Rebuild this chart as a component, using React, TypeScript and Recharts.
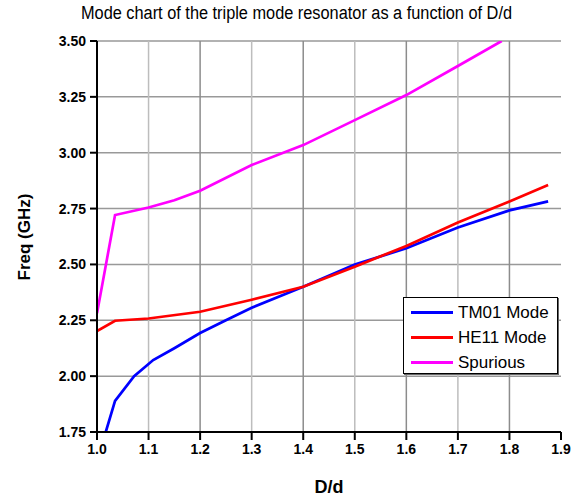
import React from 'react';
import { LineChart, Line, XAxis, YAxis, CartesianGrid, ReferenceLine } from 'recharts';

const xTicks = [1.0, 1.1, 1.2, 1.3, 1.4, 1.5, 1.6, 1.7, 1.8, 1.9];
const yTicks = [1.75, 2.0, 2.25, 2.5, 2.75, 3.0, 3.25, 3.5];

const tm01X = [1.017, 1.035, 1.072, 1.109, 1.15, 1.2, 1.25, 1.3, 1.4, 1.5, 1.6, 1.7, 1.8, 1.875];
const tm01Y = [1.75, 1.889, 2.0, 2.072, 2.125, 2.193, 2.25, 2.306, 2.4, 2.5, 2.572, 2.665, 2.742, 2.782];

const he11X = [1.0, 1.035, 1.1, 1.2, 1.3, 1.4, 1.5, 1.6, 1.7, 1.8, 1.875];
const he11Y = [2.202, 2.248, 2.258, 2.288, 2.342, 2.4, 2.49, 2.583, 2.688, 2.782, 2.855];

const spurX = [1.0, 1.035, 1.1, 1.15, 1.2, 1.3, 1.4, 1.5, 1.6, 1.7, 1.785];
const spurY = [2.281, 2.721, 2.755, 2.787, 2.83, 2.945, 3.034, 3.146, 3.258, 3.388, 3.5];

const seriesNames = ['TM01 Mode', 'HE11 Mode', 'Spurious'];
const seriesColors = ['#0000ff', '#ff0000', '#ff00ff'];
const titleText = 'Mode chart of the triple mode resonator as a function of D/d';

const toData = (xs: number[], ys: number[]) => xs.map((x, i) => ({ x, y: ys[i] }));
const tm01Data = toData(tm01X, tm01Y);
const he11Data = toData(he11X, he11Y);
const spurData = toData(spurX, spurY);

const FONT = '"Liberation Sans", Arial, sans-serif';

const LegendBox = () => (
  <div
    style={{
      position: 'absolute',
      left: 403,
      top: 297,
      width: 155,
      height: 77,
      background: '#fff',
      border: '1px solid #000',
      boxShadow: '1px 1px 0 #666',
      fontFamily: FONT,
      fontSize: 17,
      color: '#000',
      boxSizing: 'border-box',
      paddingTop: 2,
    }}
  >
    {seriesNames.map((n, i) => (
      <div key={n} style={{ display: 'flex', alignItems: 'center', height: 25, whiteSpace: 'nowrap' }}>
        <div style={{ width: 42, height: 3, background: seriesColors[i], marginLeft: 7, marginRight: 5 }} />
        <span>{n}</span>
      </div>
    ))}
  </div>
);

export default function App() {
  return (
    <div style={{ position: 'absolute', left: 0, top: 0, width: 585, height: 500, background: '#fff' }}>
      <svg width={585} height={30} style={{ position: 'absolute', left: 0, top: 0 }}>
        <text
          x={296.5}
          y={18.5}
          textAnchor="middle"
          fontFamily={FONT}
          fontSize={18}
          fill="#000"
          textLength={431}
          lengthAdjust="spacingAndGlyphs"
        >
          {titleText}
        </text>
      </svg>
      <div
        style={{
          position: 'absolute',
          left: 25,
          top: 237,
          transform: 'translate(-50%, -50%) rotate(-90deg)',
          fontFamily: FONT,
          fontSize: 17,
          fontWeight: 'bold',
          whiteSpace: 'nowrap',
        }}
      >
        Freq (GHz)
      </div>
      <div
        style={{
          position: 'absolute',
          left: 329,
          top: 487,
          transform: 'translate(-50%, -50%)',
          fontFamily: FONT,
          fontSize: 18,
          fontWeight: 'bold',
          whiteSpace: 'nowrap',
        }}
      >
        D/d
      </div>
      <LineChart width={585} height={500} margin={{ top: 41, right: 24, bottom: 0, left: 0 }}>
        <CartesianGrid horizontal={true} vertical={false} stroke="#999" strokeWidth={1.5} />
        {xTicks.slice(1, -1).map((t, i) => (
          <ReferenceLine key={t} x={t} stroke={i % 2 === 0 ? '#bdbdbd' : '#8c8c8c'} strokeWidth={1.5} />
        ))}
        <XAxis
          dataKey="x"
          type="number"
          domain={[1.0, 1.9]}
          ticks={xTicks}
          tickFormatter={(v: number) => v.toFixed(1)}
          height={68}
          tickSize={8}
          tickMargin={4}
          allowDataOverflow
          axisLine={{ stroke: '#000', strokeWidth: 2 }}
          tickLine={{ stroke: '#000', strokeWidth: 2 }}
          tick={{ fill: '#000', fontSize: 14, fontWeight: 'bold', fontFamily: FONT }}
        />
        <XAxis
          xAxisId="top"
          orientation="top"
          type="number"
          domain={[1.0, 1.9]}
          ticks={xTicks}
          height={0}
          tick={false}
          tickLine={false}
          axisLine={{ stroke: '#000', strokeWidth: 2 }}
        />
        <YAxis
          type="number"
          domain={[1.75, 3.5]}
          ticks={yTicks}
          tickFormatter={(v: number) => v.toFixed(2)}
          width={97}
          tickSize={7}
          tickMargin={4}
          allowDataOverflow
          axisLine={{ stroke: '#000', strokeWidth: 2 }}
          tickLine={{ stroke: '#000', strokeWidth: 2 }}
          tick={{ fill: '#000', fontSize: 14, fontWeight: 'bold', fontFamily: FONT }}
        />
        <YAxis
          yAxisId="right"
          orientation="right"
          type="number"
          domain={[1.75, 3.5]}
          ticks={yTicks}
          width={0}
          tickSize={4}
          tickFormatter={() => ''}
          axisLine={{ stroke: '#000', strokeWidth: 2 }}
          tickLine={{ stroke: '#000', strokeWidth: 1.5 }}
        />
        <Line data={tm01Data} dataKey="y" name={seriesNames[0]} stroke={seriesColors[0]} strokeWidth={2.7} dot={false} isAnimationActive={false} />
        <Line data={he11Data} dataKey="y" name={seriesNames[1]} stroke={seriesColors[1]} strokeWidth={2.7} dot={false} isAnimationActive={false} />
        <Line data={spurData} dataKey="y" name={seriesNames[2]} stroke={seriesColors[2]} strokeWidth={2.7} dot={false} isAnimationActive={false} />
      </LineChart>
      <LegendBox />
    </div>
  );
}
